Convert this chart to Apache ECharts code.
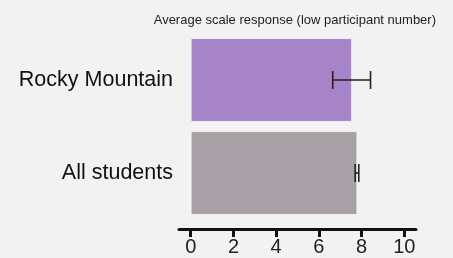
<!DOCTYPE html>
<html>
<head>
<meta charset="utf-8">
<script src="https://cdn.jsdelivr.net/npm/echarts@6/dist/echarts.min.js"></script>
<style>
  html, body { margin: 0; padding: 0; background: #f2f2f2; }
  #chart { width: 453px; height: 258px; }
</style>
</head>
<body>
<div id="chart"></div>
<script>
// data
const categories = ['Rocky Mountain', 'All students'];
const means = [7.55, 7.8];
const errLow = [6.65, 7.7];
const errHigh = [8.42, 7.87];
const tickValues = [0, 2, 4, 6, 8, 10];
const barColors = ['#a783c7', '#a7a1a5'];

const chart = echarts.init(document.getElementById('chart'));

chart.setOption({
  backgroundColor: '#f2f2f2',
  animation: false,
  title: {
    text: 'Average scale response (low participant number)',
    right: 12,
    top: 9,
    textStyle: {
      fontFamily: 'Liberation Sans',
      fontSize: 13,
      fontWeight: 'normal',
      color: '#222'
    }
  },
  grid: {
    left: 179,
    right: 37,
    top: 33.5,
    bottom: 38.5
  },
  xAxis: {
    type: 'value',
    min: -0.55,
    max: 10.55,
    offset: 9.5,
    splitLine: { show: false },
    axisLine: {
      show: true,
      lineStyle: { color: '#111', width: 3 }
    },
    axisTick: {
      show: true,
      length: 8,
      customValues: tickValues,
      lineStyle: { color: '#111', width: 3 }
    },
    axisLabel: {
      customValues: tickValues,
      margin: 8,
      fontFamily: 'Liberation Sans',
      fontSize: 20,
      color: '#222'
    }
  },
  yAxis: {
    type: 'category',
    inverse: true,
    data: categories,
    axisLine: { show: false },
    axisTick: { show: false },
    axisLabel: {
      margin: 6,
      fontFamily: 'Liberation Sans',
      fontSize: 21.5,
      color: '#111'
    }
  },
  series: [
    {
      type: 'bar',
      data: means.map((v, i) => ({ value: v, itemStyle: { color: barColors[i] } })),
      barCategoryGap: '10%',
      itemStyle: { borderColor: 'rgba(255,255,255,0.5)', borderWidth: 1 }
    },
    {
      type: 'custom',
      data: categories.map((c, i) => [i, errLow[i], errHigh[i]]),
      renderItem: function (params, api) {
        const idx = api.value(0);
        const lo = api.coord([api.value(1), idx]);
        const hi = api.coord([api.value(2), idx]);
        const cap = 9;
        const style = { stroke: '#222', lineWidth: 1.6 };
        return {
          type: 'group',
          children: [
            { type: 'line', shape: { x1: lo[0], y1: lo[1], x2: hi[0], y2: hi[1] }, style: style },
            { type: 'line', shape: { x1: lo[0], y1: lo[1] - cap, x2: lo[0], y2: lo[1] + cap }, style: style },
            { type: 'line', shape: { x1: hi[0], y1: hi[1] - cap, x2: hi[0], y2: hi[1] + cap }, style: style }
          ]
        };
      },
      z: 5
    }
  ]
});
</script>
</body>
</html>
